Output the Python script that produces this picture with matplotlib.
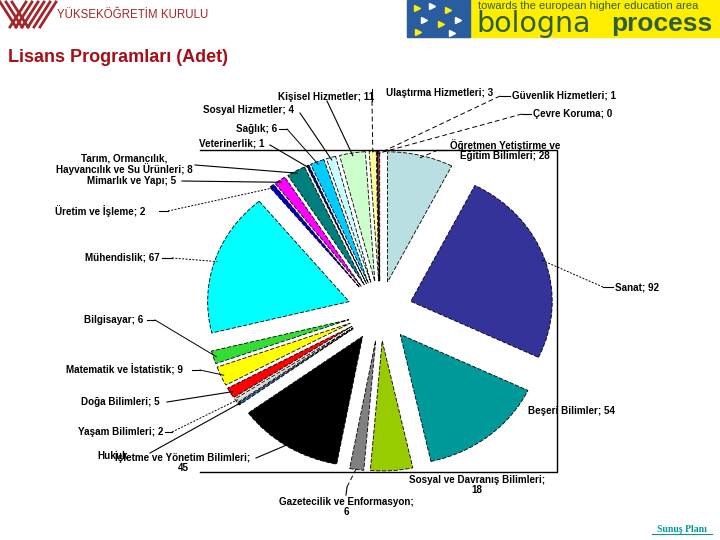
import matplotlib
matplotlib.use('Agg')
import matplotlib.pyplot as plt
import numpy as np

plt.rcParams['font.family'] = ['Liberation Sans', 'DejaVu Sans']

# ISCED fields, clockwise from 12 o'clock
fields = ['Öğretmen Yetiştirme ve\nEğitim Bilimleri', 'Sanat', 'Beşeri Bilimler',
          'Sosyal ve Davranış Bilimleri', 'Gazetecilik ve Enformasyon',
          'İşletme ve Yönetim Bilimleri', 'Hukuk', 'Yaşam Bilimleri', 'Doğa Bilimleri',
          'Matematik ve İstatistik', 'Bilgisayar', 'Mühendislik', 'Üretim ve İşleme',
          'Mimarlık ve Yapı', 'Tarım, Ormancılık,\nHayvancılık ve Su Ürünleri',
          'Veterinerlik', 'Sağlık', 'Sosyal Hizmetler', 'Kişisel Hizmetler',
          'Ulaştırma Hizmetleri', 'Çevre Koruma', 'Güvenlik Hizmetleri']
counts = [28, 92, 54, 18, 6, 45, 1, 2, 5, 9, 6, 67, 2, 5, 8, 1, 6, 4, 11, 3, 0, 1]
colors = ['#b9dfe3', '#333399', '#009999', '#99cc00', '#808080', '#000000', '#336699',
          '#dcdcdc', '#ff0000', '#ffff00', '#33dd33', '#00ffff', '#0000cc', '#ff00ff',
          '#007f7f', '#000080', '#00ccff', '#ccffff', '#ccffcc', '#ffff99', '#000000',
          '#993333']

# label layout in pixels: x, y, ha, separator, leader start points, leader style
dot = (0, (2, 1.5))
dash = (0, (5, 3))
longdash = (0, (8, 5))
layout = {
    0: (505, 150, 'center', '; ', [(448, 150), (438, 150)], dash),
    1: (615, 287, 'left', '; ', [(613, 287), (603, 287)], dot),
    2: (528, 411, 'left', '; ', None, None),
    3: (477, 485, 'center', ';\n', None, None),
    4: (346, 507, 'center', ';\n', [(346, 495), (347, 487)], dash),
    5: (183, 462, 'center', ';\n', [(256, 458)], dash),
    6: (97, 456, 'left', None, [(150, 453)], dot),
    7: (78, 432, 'left', '; ', [(165, 432), (172, 432)], dot),
    8: (81, 402, 'left', '; ', [(167, 402)], longdash),
    9: (66, 370, 'left', '; ', [(192, 370), (200, 370)], 'solid'),
    10: (84, 320, 'left', '; ', [(147, 320), (155, 320)], 'solid'),
    11: (85, 258, 'left', '; ', [(162, 258), (172, 258)], dot),
    12: (55, 211, 'left', '; ', [(159, 211), (168, 211)], dot),
    13: (87, 181, 'left', '; ', [(182, 181)], longdash),
    14: (124, 164, 'center', '; ', [(195, 165)], longdash),
    15: (199, 144, 'left', '; ', [(270, 145)], 'solid'),
    16: (236, 129, 'left', '; ', [(279, 129), (287, 129)], 'solid'),
    17: (203, 110, 'left', '; ', [(300, 113)], 'solid'),
    18: (278, 97, 'left', '; ', [(327, 101)], 'solid'),
    19: (386, 93, 'left', '; ', [(372, 89), (372, 101)], dash),
    20: (533, 114, 'left', '; ', [(531, 114), (522, 114)], dash),
    21: (512, 96, 'left', '; ', [(510, 96), (500, 96)], dash),
}

fig = plt.figure(figsize=(7.2, 5.4), dpi=100)
W, H = 720, 540

# pie area (pixels)
px0, px1, py0, py1 = 206, 554, 151, 471
ax = fig.add_axes([px0 / W, 1 - py1 / H, (px1 - px0) / W, (py1 - py0) / H])
explode = [0.23] * len(counts)
wedges, _ = ax.pie(counts, colors=colors, explode=explode, startangle=90,
                   counterclock=False,
                   wedgeprops=dict(edgecolor='black', linewidth=0.6, linestyle=(0, (5, 2))))
ax.set_aspect('auto')
ax.set_xlim(-1.23, 1.23)
ax.set_ylim(-1.23, 1.23)
ax.axis('off')

ov = fig.add_axes([0, 0, 1, 1], facecolor='none')
ov.set_xlim(0, W)
ov.set_ylim(H, 0)
ov.axis('off')
to_ov = ax.transData + ov.transData.inverted()

for i, w in enumerate(wedges):
    x, y, ha, sep, pts, ls = layout[i]
    txt = fields[i] if sep is None else f'{fields[i]}{sep}{counts[i]}'
    ov.text(x, y, txt, ha=ha, va='center', fontsize=7.1, fontweight='bold',
            linespacing=1.0, multialignment='center')
    if pts is None:
        continue
    mid = np.deg2rad((w.theta1 + w.theta2) / 2)
    cx, cy = w.center
    ex, ey = to_ov.transform((cx + 0.98 * np.cos(mid), cy + 0.98 * np.sin(mid)))
    xs = [p[0] for p in pts] + [ex]
    ys = [p[1] for p in pts] + [ey]
    ov.plot(xs[:2], ys[:2], color='black', lw=0.8)
    ov.plot(xs[1:], ys[1:], color='black', lw=0.7, linestyle=ls)

# frame lines of the chart box
ov.plot([200, 557, 557, 200], [150, 150, 472, 472], color='black', lw=1)

# title
ov.text(8, 57, 'Lisans Programları (Adet)', fontsize=13, fontweight='bold',
        color='#a50f15', va='center', ha='left')

# YÖK logo
red = '#a3262b'
for off in (0, 6, 12):
    ov.plot([off, off + 16], [2, 27], color=red, lw=2)
    ov.plot([off + 26, off + 10], [2, 27], color=red, lw=2)
    ov.plot([off + 28, off + 44], [27, 2], color=red, lw=2)
ov.text(57, 15, 'YÜKSEKÖĞRETİM KURULU', fontsize=8.3, color=red, va='center', ha='left')

# Bologna logo
ov.add_patch(plt.Rectangle((407, 0), 313, 37, color='#ffee00', zorder=1))
ov.add_patch(plt.Rectangle((407, 0), 63, 37, color='#2a5d9f', zorder=2))
for (mx, my, mc) in [(417, 8, '#ffee00'), (432, 6, 'white'), (448, 10, '#ffee00'),
                     (424, 20, 'white'), (441, 24, '#ffee00'), (458, 20, 'white'),
                     (418, 32, '#ffee00'), (452, 33, 'white')]:
    ov.plot(mx, my, marker='>', color=mc, markersize=5, zorder=3)
green = '#2f5e3b'
ov.text(478, 6, 'towards the european higher education area', fontsize=8.0,
        color=green, va='center', ha='left', zorder=3)
ov.text(476, 24, 'bologna', fontsize=20.5, color=green, va='center', ha='left',
        family=['DejaVu Sans'], zorder=3)
ov.text(611, 24, 'process', fontsize=19, fontweight='bold', color=green,
        va='center', ha='left', zorder=3)

# footer link
ov.text(682, 529, 'Sunuş Planı', fontsize=7, fontweight='bold', color='#009999',
        family=['Liberation Serif', 'DejaVu Serif'], ha='center', va='center')
ov.plot([652, 712], [534, 534], color='#009999', lw=0.8)

fig.savefig('out.png', dpi=100)
